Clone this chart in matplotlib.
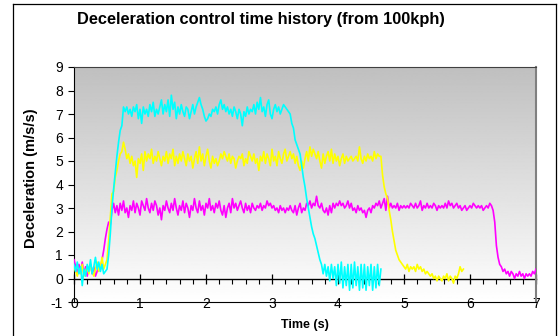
import numpy as np
import matplotlib
matplotlib.use("Agg")
import matplotlib.pyplot as plt
from matplotlib.lines import Line2D

plt.rcParams['font.family'] = ['Liberation Sans', 'DejaVu Sans']
plt.rcParams['axes.unicode_minus'] = False

dt = 0.025  # sample spacing (s)

# magenta trace, t = 0 .. 7.0
magenta = [
    0.8, 0.5, 0.2, 0.6, 0.3, 0.7, 0.2, 0.5, 0.1, 0.4, 0.6, 0.2, 0.5, 0.1, 0.3, 0.6, 0.4,
    0.8, 1.2, 1.7, 2.1, 2.4, 2.3, 2.9, 3.2,
    2.8, 3.1, 2.7, 3.2, 2.9, 3.3, 2.8, 3.0, 2.6, 3.1, 2.9, 3.3, 2.8, 3.2, 3.0, 2.7, 3.3, 3.1, 2.9, 3.4,
    3.0, 2.8, 3.2, 2.9, 3.3, 3.1, 2.7, 3.0, 2.5, 3.1, 2.9, 3.3, 3.0, 2.8, 3.2, 2.9, 3.4, 3.0, 2.7, 3.1,
    2.9, 3.3, 2.8, 3.2, 3.0, 2.6, 3.1, 2.9, 3.4, 3.0, 2.8, 3.3, 2.9, 3.1, 2.7, 3.2, 3.0, 3.4, 2.9, 3.1,
    2.8, 3.2, 3.0, 3.3, 2.9, 2.7, 3.1, 2.6, 3.0, 3.2, 2.8, 3.4, 3.0, 3.2, 2.9, 3.1, 3.3, 3.0, 2.8, 3.2,
    2.9, 3.1, 2.8, 3.2, 3.0, 2.9, 3.1, 3.0, 3.2, 2.9, 3.1, 3.0, 3.3, 3.1, 3.2, 3.0, 3.1, 2.9, 3.0, 2.8,
    3.1, 2.9, 3.0, 2.8, 3.0, 2.9, 3.1, 2.9, 2.8, 3.1, 2.7, 3.0, 3.2, 2.8, 3.0, 2.9, 3.2, 3.1, 3.3, 3.0,
    3.2, 3.1, 3.5, 3.1, 3.0, 3.2, 2.9, 2.8, 3.0, 2.7, 3.1, 2.8, 3.2, 3.0, 3.2, 3.1, 3.3, 3.1, 3.2, 3.0,
    3.1, 3.3, 3.0, 3.2, 2.9, 3.0, 2.8, 3.1, 2.9, 3.0, 2.8, 2.9, 2.6, 2.9, 3.0, 2.8, 3.1, 3.0, 3.2, 3.1,
    3.3, 3.0, 3.2, 3.4, 2.9, 3.5, 3.0, 3.2, 3.0, 3.1, 3.0, 3.2, 2.9, 3.1, 3.0, 3.1, 3.0, 3.1, 3.0, 3.2,
    3.1, 3.0, 3.2, 3.0, 3.1, 3.3, 2.9, 3.1, 3.0, 3.2, 3.0, 3.1, 3.0, 3.2, 3.1, 2.9, 3.1, 3.0, 3.1, 3.0,
    3.2, 3.0, 3.3, 3.1, 3.2, 3.0, 3.1, 3.2, 3.0, 3.1, 2.9, 3.0, 3.1, 2.9, 3.0, 3.1, 3.0, 3.2, 3.1, 3.0,
    3.1, 3.0, 3.1, 2.9, 3.0, 3.1, 3.0, 3.2, 3.1,
    2.9, 2.4, 1.4, 0.9, 0.6, 0.5,
    0.3, 0.4, 0.2, 0.3, 0.1, 0.3, 0.2, 0.0, 0.2, 0.1, 0.3, 0.1, 0.2, 0.0, 0.2, 0.1, 0.2, 0.1, 0.3, 0.2, 0.4,
]

# yellow trace, t = 0 .. 5.9
yellow = [
    0.5, 0.3, 0.1, 0.4, 0.2, 0.6, 0.1, 0.3, 0.5, 0.2, 0.6, 0.3, 0.1, 0.4, 0.7, 0.3, 0.5, 0.9, 0.4, 0.6,
    0.8, 1.6, 2.6, 3.6, 3.7, 4.3, 4.6, 5.0, 5.3, 5.4, 5.8,
    5.5, 5.1, 5.3, 4.9, 5.2, 4.8, 5.0, 4.3, 5.1, 4.9, 5.3, 4.6, 5.4, 5.0, 5.3, 5.1, 5.5, 4.9, 5.2, 5.0,
    5.4, 5.1, 4.8, 5.2, 5.0, 5.4, 4.9, 5.3, 5.1, 5.5, 4.8, 5.2, 4.9, 5.3, 5.0, 5.4, 5.1, 4.8, 5.3, 5.0,
    5.2, 4.7, 5.1, 5.4, 4.9, 5.6, 5.0, 5.3, 4.8, 5.2, 5.5, 5.0, 4.7, 5.2, 4.9, 5.1, 4.8, 5.0, 5.3, 5.1,
    5.4, 5.2, 5.0, 5.3, 4.9, 5.2, 5.1, 4.7, 5.0, 5.2, 5.1, 5.3, 4.8, 5.1, 4.9, 5.4, 5.2, 5.0, 5.3, 4.9,
    5.1, 4.6, 5.2, 5.0, 5.4, 4.9, 5.3, 5.1, 4.8, 5.5, 5.0, 5.2, 4.8, 5.4, 5.1, 4.9, 5.3, 5.5, 5.0, 5.2,
    5.4, 5.1, 5.3, 4.9, 5.2, 4.8, 4.6, 5.0, 4.7, 5.1, 5.4, 5.0, 5.6, 5.2, 5.5, 5.3, 5.1, 5.4, 5.0, 4.7,
    5.3, 4.9, 5.2, 5.4, 5.0, 5.5, 4.9, 5.3, 5.0, 5.2, 4.8, 5.1, 5.3, 4.9, 5.2, 5.0, 5.1, 5.2, 5.0, 5.1,
    5.2, 5.0, 5.6, 5.1, 4.9, 5.2, 5.0, 5.3, 5.1, 5.2, 5.0, 5.4, 5.1, 5.3, 5.2,
    5.2, 4.4, 3.9, 3.6, 3.4, 2.9, 2.5, 2.0, 1.6, 1.2, 1.0, 0.8, 0.7, 0.6,
    0.5, 0.4, 0.6, 0.3, 0.5, 0.4, 0.5, 0.3, 0.6, 0.4, 0.5, 0.3, 0.4, 0.2,
    0.3, 0.2, 0.1, 0.2, 0.0, 0.1, -0.1, 0.1, 0.0, -0.1, 0.1, 0.0, 0.2, -0.1, 0.1, 0.0, -0.2, 0.1, 0.0,
    0.2, 0.5, 0.3, 0.4,
]

# cyan trace, t = 0 .. 4.65
cyan = [
    0.6, 0.3, 0.7, 0.2, 0.5, -0.3, 0.4, 0.1, 0.6, 0.3, 0.8, 0.2, 0.5, 0.9, 0.4, 0.7, 0.3, 0.6, 0.2, 0.3,
    0.4, 1.0, 1.9, 3.0, 3.8, 4.5, 5.2, 5.8, 6.3, 6.5, 7.3, 7.1,
    7.3, 7.0, 7.2, 6.9, 7.3, 7.1, 7.4, 6.8, 7.2, 6.6, 7.3, 7.0, 7.2, 6.9, 7.4, 7.1, 7.5, 6.9, 7.2, 7.0,
    7.3, 7.6, 7.0, 7.4, 7.1, 7.6, 6.9, 7.8, 7.2, 7.5, 6.8, 7.3, 7.0, 7.4, 7.1, 6.9, 7.3, 7.2, 6.8, 7.1,
    7.4, 7.0, 7.3, 7.5, 7.7, 7.4, 7.2, 6.9, 6.7, 6.8, 7.0, 6.9, 7.2, 7.1, 7.3, 7.0, 7.4, 7.6, 7.2, 7.4,
    7.1, 7.3, 7.0, 7.2, 6.9, 7.3, 7.1, 6.8, 7.2, 7.0, 6.5, 7.1, 6.9, 7.3, 7.0, 7.2, 7.1, 7.4, 7.0, 7.5,
    7.2, 7.7, 7.1, 7.3, 6.9, 7.4, 7.6, 7.0, 6.8, 7.2, 7.4, 7.1, 7.3, 7.0, 7.2, 7.4, 7.3, 7.2, 7.1,
    7.0, 6.6, 6.4, 5.9, 5.7, 5.5, 5.3, 4.8, 4.3, 3.9, 3.4, 3.0, 2.6, 2.2, 1.9, 1.7, 1.4, 1.1, 0.8, 0.6,
    0.2, 0.6, 0.1, 0.5, -0.1, 0.6, 0.0, 0.5, -0.3, 0.6, -0.2, 0.7, -0.4, 0.5, -0.3, 0.6, -0.5, 0.6,
    -0.4, 0.7, -0.3, 0.5, -0.5, 0.6, -0.4, 0.6, -0.5, 0.5, -0.3, 0.6, -0.5, 0.5, -0.4, 0.6, -0.3, 0.4,
]

x_ticks = [0, 1, 2, 3, 4, 5, 6, 7]
y_ticks = [-1, 0, 1, 2, 3, 4, 5, 6, 7, 8, 9]

fig = plt.figure(figsize=(5.59, 3.36), dpi=100)
ax = fig.add_axes([74 / 559, 1 - 302 / 336, 462 / 559, 235 / 336])

# gray-to-white plot area
grad = np.linspace(1.0, 0.75, 256).reshape(-1, 1)
ax.imshow(grad, extent=[0, 7, -1, 9], origin='lower', aspect='auto',
          cmap='gray', vmin=0, vmax=1, zorder=0)

for vals, col in [(magenta, '#FF00FF'), (yellow, '#FFFF00'), (cyan, '#00FFFF')]:
    t = np.arange(len(vals)) * dt
    ax.plot(t, vals, color=col, lw=1.2, zorder=3)

ax.set_xlim(0, 7)
ax.set_ylim(-1, 9)
ax.set_xticks(x_ticks)
ax.set_yticks(y_ticks)
ax.tick_params(axis='x', length=0, pad=-3.5, labelsize=10)
ax.tick_params(axis='y', direction='out', length=4, width=0.8, pad=4, labelsize=10)

ax.spines['left'].set_color('black')
ax.spines['bottom'].set_color('black')
ax.spines['top'].set_color('#404040')
ax.spines['right'].set_color('#808080')
ax.spines['right'].set_linewidth(1.5)

# x axis crossing at zero
zx = ax.secondary_xaxis(0.1)
zx.set_xticks(x_ticks)
zx.set_xticks(np.arange(0, 7.01, 0.2), minor=True)
zx.tick_params(which='major', direction='inout', length=7, width=0.9, labelbottom=False)
zx.tick_params(which='minor', direction='out', length=3.5, width=0.8)
zx.spines['bottom'].set_linewidth(1.0)

ax.set_ylabel('Deceleration (m/s/s)', fontsize=10.5, fontweight='bold')
ax.yaxis.set_label_coords(-0.078, 0.525)
ax.set_xlabel('Time (s)', fontsize=9, fontweight='bold')
ax.xaxis.set_label_coords(0.5, -0.072)

fig.text(261 / 559, 1 - 19.5 / 336, 'Deceleration control time history (from 100kph)',
         ha='center', va='center', fontsize=11.8, fontweight='bold')

# chart border
fig.add_artist(Line2D([13 / 559, 13 / 559], [0, 1 - 4 / 336], color='black', lw=0.9))
fig.add_artist(Line2D([13 / 559, 556 / 559], [1 - 4 / 336, 1 - 4 / 336], color='black', lw=0.9))
fig.add_artist(Line2D([556 / 559, 556 / 559], [0, 1 - 4 / 336], color='black', lw=0.9))

fig.savefig('out.png', dpi=100)
